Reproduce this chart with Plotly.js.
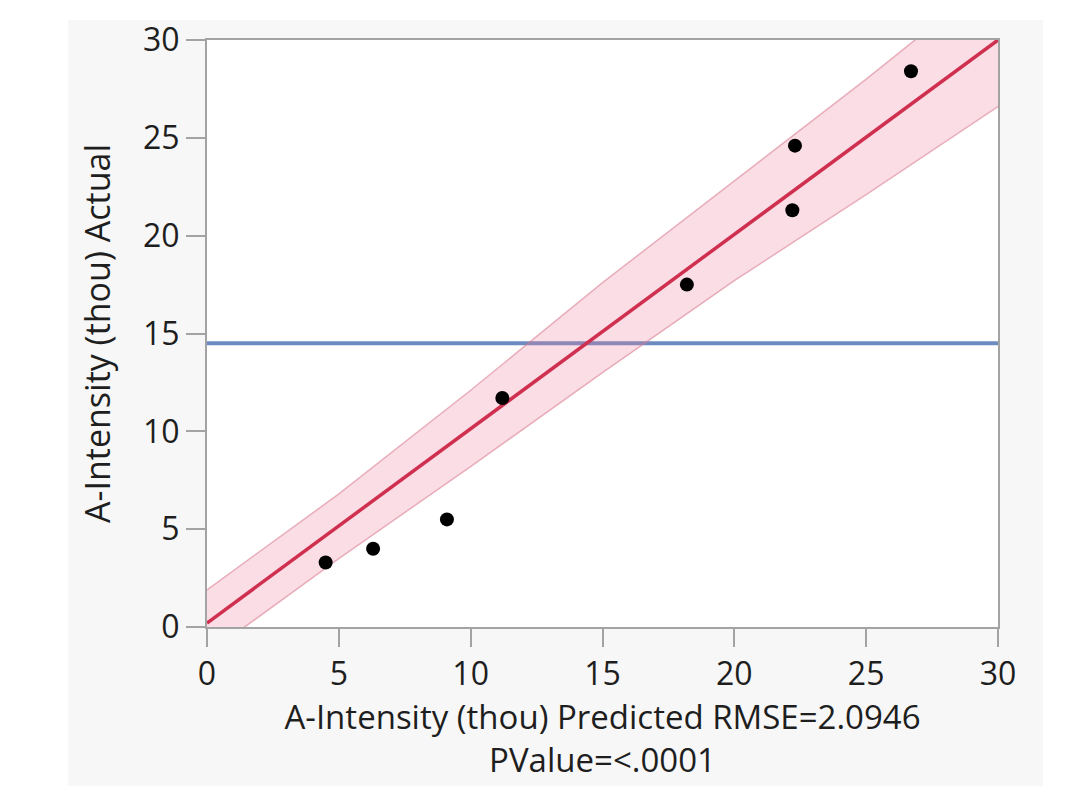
<!DOCTYPE html>
<html>
<head>
<meta charset="utf-8">
<script src="https://cdn.plot.ly/plotly-3.0.1.min.js"></script>
<style>
  html, body { margin: 0; padding: 0; background: #ffffff; }
  #panel { position: absolute; left: 68px; top: 20px; width: 975px; height: 766px; background: #f7f7f7; }
  #chart { position: absolute; left: 0; top: 0; width: 1085px; height: 786px; }
</style>
</head>
<body>
<div id="panel"></div>
<div id="chart"></div>
<script>
// Observed points (predicted vs actual)
const predicted = [4.5, 6.3, 9.1, 11.2, 18.2, 22.2, 22.3, 26.7];
const actual    = [3.3, 4.0, 5.5, 11.7, 17.5, 21.3, 24.6, 28.4];

// Fit line
const fitX = [0, 30];
const fitY = [0.2, 30];

// Mean of actual
const meanX = [0, 30];
const meanY = [14.5, 14.5];

// Confidence band edges
const bandX     = [0, 5, 10, 15, 20, 25, 30];
const bandUpper = [1.9, 6.8, 12.1, 17.6, 22.8, 28.0, 33.4];
const bandLower = [-1.4, 3.5, 8.2, 13.0, 17.7, 22.1, 26.6];

// Tick values
const tickVals = [0, 5, 10, 15, 20, 25, 30];

const edgeColor = 'rgba(215,120,140,0.55)';

const traces = [
  { x: meanX, y: meanY, mode: 'lines', line: { color: '#6d8bc0', width: 4 }, hoverinfo: 'skip' },
  { x: bandX, y: bandLower, mode: 'lines', line: { color: edgeColor, width: 1.5 }, hoverinfo: 'skip' },
  { x: bandX, y: bandUpper, mode: 'lines', line: { color: edgeColor, width: 1.5 },
    fill: 'tonexty', fillcolor: 'rgba(240,120,150,0.25)', hoverinfo: 'skip' },
  { x: fitX, y: fitY, mode: 'lines', line: { color: '#d0304f', width: 3.5 } },
  { x: predicted, y: actual, mode: 'markers', marker: { color: '#000000', size: 14 } }
];

const font = "'Open Sans', 'Noto Sans', sans-serif";
const txt = '#1e1e1e';

const layout = {
  width: 1085, height: 786,
  paper_bgcolor: 'rgba(0,0,0,0)',
  plot_bgcolor: '#ffffff',
  showlegend: false,
  margin: { l: 207, r: 87, t: 40, b: 159 },
  font: { family: font, color: txt },
  xaxis: {
    range: [0, 30], tickvals: tickVals, ticktext: tickVals.map(String),
    showgrid: false, zeroline: false,
    showline: true, linecolor: '#a3a3a3', linewidth: 2, mirror: true,
    ticks: 'outside', ticklen: 18, tickcolor: '#a3a3a3', tickwidth: 2,
    tickfont: { size: 32, family: font, color: txt },
    title: { text: 'A-Intensity (thou) Predicted RMSE=2.0946<br>PValue=<.0001',
             font: { size: 33, family: font, color: txt }, standoff: 12 }
  },
  yaxis: {
    range: [0, 30], tickvals: tickVals, ticktext: tickVals.map(String),
    showgrid: false, zeroline: false,
    showline: true, linecolor: '#a3a3a3', linewidth: 2, mirror: true,
    ticks: 'outside', ticklen: 19, tickcolor: '#a3a3a3', tickwidth: 2,
    tickfont: { size: 32, family: font, color: txt },
    title: { text: 'A-Intensity (thou) Actual',
             font: { size: 34, family: font, color: txt }, standoff: 22 }
  }
};

Plotly.newPlot('chart', traces, layout, { staticPlot: true, displayModeBar: false });
</script>
</body>
</html>
